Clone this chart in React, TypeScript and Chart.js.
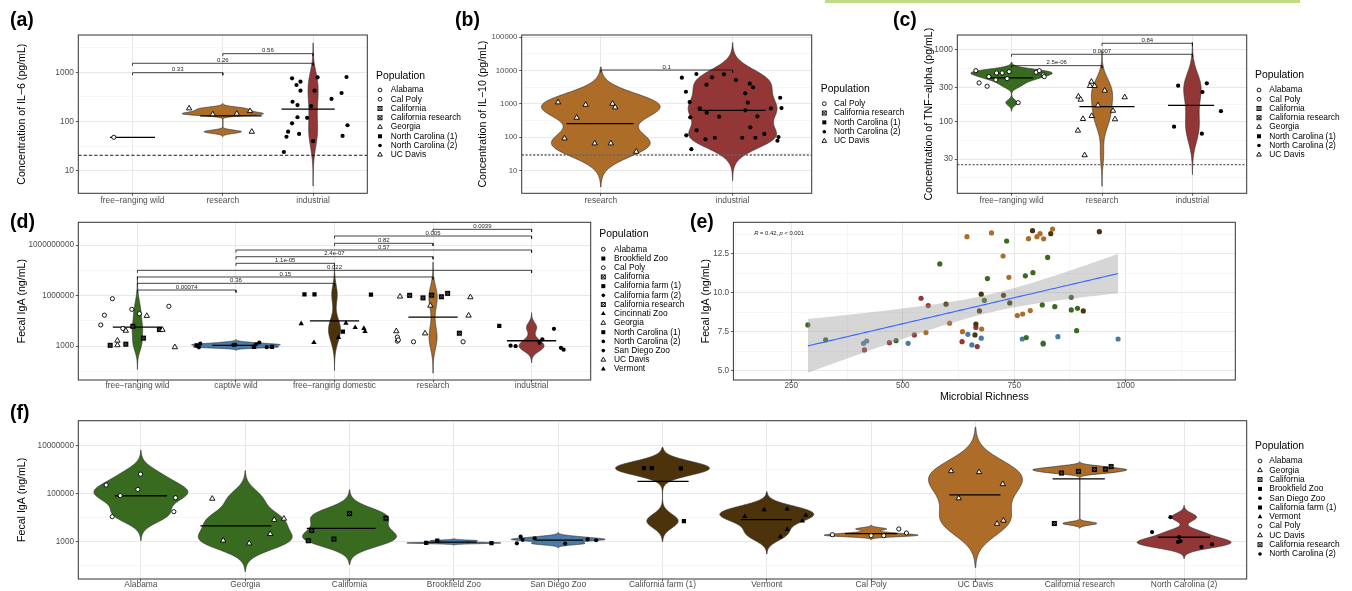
import React, { useEffect, useRef } from 'react';
import { Chart, registerables } from 'chart.js';

Chart.register(...registerables);

const FONT = '"Liberation Sans", Arial, Helvetica, sans-serif';

// ---------------- colours by population category ----------------
const COL_WILD = '#386a1f';
const COL_CAPTIVE = '#4a7ba7';
const COL_DOMESTIC = '#4d330b';
const COL_RESEARCH = '#ae6c29';
const COL_INDUSTRIAL = '#933636';

const POP_SHAPE: Record<string, string> = {
  'Alabama': 'ocircle', 'Cal Poly': 'ocircle', 'California': 'boxx', 'California research': 'boxx',
  'Georgia': 'otri', 'UC Davis': 'otri', 'North Carolina (1)': 'square', 'North Carolina (2)': 'dot',
  'Brookfield Zoo': 'square', 'California farm (1)': 'square', 'California farm (2)': 'dot',
  'Cincinnati Zoo': 'ftri', 'San Diego Zoo': 'dot', 'Vermont': 'ftri',
};

// ---------------- panel (a) IL-6 ----------------
const A_CATS = ['free−ranging wild', 'research', 'industrial'];
const A_WILD_IL6 = [47.8];
const A_WILD_JIT = [0.793];
const A_RES_IL6 = [185, 140, 144, 163, 62];
const A_RES_JIT = [1.627, 1.889, 2.155, 2.302, 2.321];
const A_IND_IL6 = [24, 755, 49, 62, 92, 252, 552, 644, 216, 122, 56, 423, 119, 206, 423, 40, 791, 287, 380, 802, 84, 51];
const A_IND_JIT = [2.676, 2.767, 2.705, 2.723, 2.767, 2.772, 2.816, 2.86, 2.827, 2.827, 2.845, 2.86, 2.934, 2.978, 3.016, 3.0, 3.049, 3.204, 3.315, 3.37, 3.381, 3.326];
const A_LOD = 20.6;
const A_Y_MAJOR = [10, 100, 1000];
const A_Y_LABELS = ['10', '100', '1000'];
const A_BR_FROM = [1, 1, 2];
const A_BR_TO = [2, 3, 3];
const A_BR_Y = [981, 1524, 2390];
const A_BR_P = ['0.33', '0.26', '0.56'];
const A_LEGEND = ['Alabama', 'Cal Poly', 'California', 'California research', 'Georgia', 'North Carolina (1)', 'North Carolina (2)', 'UC Davis'];

// ---------------- panel (b) IL-10 ----------------
const B_CATS = ['research', 'industrial'];
const B_RES_IL10 = [1122, 950, 1020, 794, 387, 93, 66, 66, 37];
const B_RES_JIT = [0.676, 0.885, 1.089, 1.109, 0.817, 0.725, 0.954, 1.076, 1.269];
const B_IND_IL10 = [6140, 7930, 2330, 1145, 741, 398, 115, 162, 44, 3785, 6300, 7760, 547, 415, 97, 87, 5240, 2090, 4060, 3160, 1092, 646, 426, 200, 97, 97, 126, 741, 1540, 755, 102, 79];
const B_IND_JIT = [1.615, 1.725, 1.646, 1.674, 1.75, 1.679, 1.649, 1.727, 1.687, 1.802, 1.844, 1.934, 1.804, 1.898, 1.865, 1.794, 2.025, 2.096, 2.13, 2.155, 2.115, 2.096, 2.188, 2.134, 2.073, 2.173, 2.241, 2.29, 2.361, 2.371, 2.348, 2.34];
const B_LOD = 29.6;
const B_Y_MAJOR = [10, 100, 1000, 10000, 100000];
const B_Y_LABELS = ['10', '100', '1000', '10000', '100000'];
const B_BR_FROM = [1];
const B_BR_TO = [2];
const B_BR_Y = [10450];
const B_BR_P = ['0.1'];
const B_LEGEND = ['Cal Poly', 'California research', 'North Carolina (1)', 'North Carolina (2)', 'UC Davis'];

// ---------------- panel (c) TNF-alpha ----------------
const C_CATS = ['free−ranging wild', 'research', 'industrial'];
const C_WILD_TNF = [514, 347, 312, 425, 382, 478, 478, 398, 498, 184, 489, 514, 448, 425];
const C_WILD_JIT = [0.605, 0.641, 0.73, 0.749, 0.826, 0.834, 0.896, 0.951, 0.973, 1.073, 1.272, 1.306, 1.35, 1.361];
const C_RES_TNF = [361, 315, 315, 271, 224, 203, 219, 169, 142, 109, 120, 108, 75, 34];
const C_RES_JIT = [1.883, 1.867, 1.919, 2.03, 1.739, 1.764, 2.251, 1.956, 2.122, 1.79, 1.886, 2.144, 1.734, 1.808];
const C_IND_TNF = [318, 343, 259, 140, 85, 68];
const C_IND_JIT = [2.842, 3.159, 3.111, 3.315, 2.797, 3.104];
const C_LOD = 25.1;
const C_Y_MAJOR = [30, 100, 300, 1000];
const C_Y_LABELS = ['30', '100', '300', '1000'];
const C_BR_FROM = [1, 1, 2];
const C_BR_TO = [2, 3, 3];
const C_BR_Y = [604, 871, 1240];
const C_BR_P = ['2.5e-06', '0.0007', '0.84'];

// ---------------- fecal IgA by population (panels d and f) ----------------
const IGA_ALABAMA = [229000, 83200, 151000, 646000, 67600, 11000, 17800];
const IGA_GEORGIA = [61700, 1120, 851, 2090, 8130, 9120];
const IGA_CALIFORNIA = [1100, 2950, 1290, 14800, 9550];
const IGA_BROOKFIELD = [890, 1100, 880];
const IGA_SANDIEGO = [851, 1620, 1200, 1380, 832, 1260, 1150];
const IGA_CALFARM1 = [1150000, 1170000, 1120000, 7240];
const IGA_VERMONT = [11200, 21400, 22900, 12600, 7240, 3240, 1620];
const IGA_CALPOLY = [1950, 1780, 1780, 3390, 2290];
const IGA_UCDAVIS = [871000, 794000, 251000, 64600, 5620, 7590];
const IGA_CALRES = [724000, 851000, 1020000, 1050000, 1350000, 5750];
const IGA_NC2 = [10500, 2510, 1550, 977, 603, 776, 1050];
const IGA_NC1 = [15800];

// jitter positions in panel (d)
const D_CATS = ['free−ranging wild', 'captive wild', 'free−ranging domestic', 'research', 'industrial'];
const D_JIT_ALABAMA = [1.319, 1.02, 0.943, 0.746, 0.665, 0.852, 0.628];
const D_JIT_GEORGIA = [1.095, 0.797, 1.38, 0.797, 0.882, 1.254];
const D_JIT_CALIFORNIA = [0.723, 1.061, 0.882, 0.953, 1.223];
const D_JIT_BROOKFIELD = [2.183, 1.601, 2.365];
const D_JIT_SANDIEGO = [2.312, 2.237, 1.993, 1.638, 1.624, 2.203, 1.973];
const D_JIT_CALFARM1 = [2.695, 2.797, 3.37, 3.085];
const D_JIT_VERMONT = [3.298, 2.662, 3.116, 3.21, 3.31, 3.041, 2.791];
const D_JIT_UCDAVIS = [3.665, 4.379, 3.973, 4.361, 3.919, 3.627];
const D_JIT_CALRES = [3.898, 4.084, 3.762, 3.986, 4.148, 4.267];
const D_JIT_CALPOLY = [3.638, 3.802, 4.305, 3.638, 3.648];
const D_JIT_NC2 = [5.227, 5.109, 5.081, 4.838, 5.325, 5.298, 4.787];
const D_JIT_NC1 = [4.672];
const D_Y_MAJOR = [1000, 1000000, 1000000000];
const D_Y_LABELS = ['1000', '1000000', '1000000000'];
const D_BR_FROM = [1, 1, 1, 1, 2, 2, 2, 3, 3, 4];
const D_BR_TO = [2, 3, 4, 5, 3, 4, 5, 4, 5, 5];
const D_BR_Y = [2.12e6, 5.3e6, 1.26e7, 3.14e7, 8.18e7, 2.02e8, 5.05e8, 1.26e9, 3.43e9, 8.57e9];
const D_BR_P = ['0.00074', '0.36', '0.15', '0.022', '1.1e-05', '2.4e-07', '0.57', '0.82', '0.005', '0.0039'];
const D_LEGEND = ['Alabama', 'Brookfield Zoo', 'Cal Poly', 'California', 'California farm (1)', 'California farm (2)', 'California research', 'Cincinnati Zoo', 'Georgia', 'North Carolina (1)', 'North Carolina (2)', 'San Diego Zoo', 'UC Davis', 'Vermont'];

// jitter positions in panel (f)
const F_CATS = ['Alabama', 'Georgia', 'California', 'Brookfield Zoo', 'San Diego Zoo', 'California farm (1)', 'Vermont', 'Cal Poly', 'UC Davis', 'California research', 'North Carolina (2)'];
const F_JIT_ALABAMA = [0.667, 0.802, 0.971, 0.996, 1.332, 0.725, 1.316];
const F_JIT_GEORGIA = [1.684, 1.789, 2.038, 2.24, 2.278, 2.371];
const F_JIT_CALIFORNIA = [2.604, 2.636, 2.85, 3.0, 3.349];
const F_JIT_BROOKFIELD = [3.735, 3.841, 4.361];
const F_JIT_SANDIEGO = [4.604, 4.64, 4.659, 4.774, 5.067, 5.282, 5.364];
const F_JIT_CALFARM1 = [5.822, 5.898, 6.176, 6.205];
const F_JIT_VERMONT = [6.789, 6.974, 7.195, 7.374, 7.341, 7.195, 7.13];
const F_JIT_CALPOLY = [7.629, 8.0, 8.121, 8.265, 8.338];
const F_JIT_UCDAVIS = [8.766, 9.035, 9.262, 8.84, 9.207, 9.268];
const F_JIT_CALRES = [9.824, 9.987, 10.14, 10.245, 10.3, 9.756];
const F_JIT_NC2 = [10.869, 10.693, 10.952, 10.942, 11.166, 11.268, 10.965];
const F_Y_MAJOR = [1000, 100000, 10000000];
const F_Y_LABELS = ['1000', '100000', '10000000'];

// ---------------- panel (e) microbial richness vs fecal IgA ----------------
const E_WILD_RICH = [287, 327, 485, 583, 683, 690, 733, 775, 777, 792, 813, 815, 825, 841, 878, 878, 892, 890];
const E_WILD_IGA = [7.95, 6.99, 6.94, 11.86, 9.53, 10.92, 13.33, 11.1, 7.14, 11.3, 9.23, 6.73, 12.28, 9.12, 9.72, 8.91, 9.02, 7.58];
const E_CAPT_RICH = [412, 419, 512, 646, 655, 676, 768, 815, 848, 983];
const E_CAPT_IGA = [6.77, 6.92, 6.77, 7.35, 6.67, 7.1, 7.05, 6.78, 7.2, 7.05];
const E_DOM_RICH = [597, 662, 664, 672, 676, 726, 740, 791, 832, 905, 941];
const E_DOM_IGA = [9.28, 7.31, 8.01, 8.85, 9.92, 9.85, 9.36, 13.99, 13.8, 8.85, 13.93];
const E_RES_RICH = [552, 605, 634, 644, 677, 699, 725, 738, 757, 769, 782, 786, 801, 808, 816, 836];
const E_RES_IGA = [7.46, 8.06, 7.52, 13.61, 7.69, 13.85, 12.37, 11.0, 8.55, 8.65, 13.48, 8.87, 13.61, 13.8, 13.47, 14.1];
const E_IND_RICH = [414, 470, 526, 541, 557, 633, 664, 667];
const E_IND_IGA = [6.35, 6.81, 7.31, 9.66, 9.19, 6.88, 7.79, 6.56];
const E_X_MAJOR = [250, 500, 750, 1000];
const E_X_LABELS = ['250', '500', '750', '1000'];
const E_Y_MAJOR = [5, 7.5, 10, 12.5];
const E_Y_LABELS = ['5.0', '7.5', '10.0', '12.5'];
const E_STAT_TEXT: [string, boolean][] = [['R', true], [' = 0.42, ', false], ['p', true], [' < 0.001', false]];

// ---------------- layout (page pixels) ----------------
const PANEL_BOXES = [
  [0, 0, 480, 212],
  [450, 0, 470, 212],
  [880, 0, 472, 212],
  [0, 205, 690, 193],
  [688, 205, 664, 200],
  [0, 400, 1352, 191],
];

// ---------------- helpers ----------------
const mean = (a: number[]) => a.reduce((s, v) => s + v, 0) / a.length;

function quantile7(sorted: number[], p: number) {
  const h = (sorted.length - 1) * p;
  const lo = Math.floor(h);
  const hi = Math.ceil(h);
  return sorted[lo] + (h - lo) * (sorted[hi] - sorted[lo]);
}

function bwNrd0(x: number[]) {
  const n = x.length;
  const m = mean(x);
  const sd = Math.sqrt(x.reduce((s, v) => s + (v - m) * (v - m), 0) / (n - 1));
  const s = [...x].sort((a, b) => a - b);
  const iqr = quantile7(s, 0.75) - quantile7(s, 0.25);
  let lo = Math.min(sd, iqr / 1.34);
  if (!(lo > 0)) lo = sd || Math.abs(x[0]) || 1;
  return 0.9 * lo * Math.pow(n, -0.2);
}

function kde(logs: number[]) {
  const n = logs.length;
  const bw = bwNrd0(logs);
  const lo = Math.min(...logs) - 3 * bw;
  const hi = Math.max(...logs) + 3 * bw;
  const N = 300;
  const ys: number[] = [];
  const ds: number[] = [];
  for (let i = 0; i < N; i++) {
    const y = lo + ((hi - lo) * i) / (N - 1);
    let s = 0;
    for (const v of logs) {
      const z = (y - v) / bw;
      s += Math.exp(-0.5 * z * z);
    }
    ys.push(y);
    ds.push(s / (n * bw * Math.sqrt(2 * Math.PI)));
  }
  return { y: ys, d: ds, dmax: Math.max(...ds), w: [] as number[] };
}

function logMinors(majors: number[], min: number, max: number) {
  const b = majors.map((v) => Math.log10(v));
  const n = b.length;
  const ext = [b[0] - (b[1] - b[0]), ...b, b[n - 1] + (b[n - 1] - b[n - 2])];
  const out: number[] = [];
  for (let i = 0; i < ext.length - 1; i++) out.push(Math.pow(10, (ext[i] + ext[i + 1]) / 2));
  return out.filter((v) => v > min && v < max);
}

function linMinors(majors: number[], min: number, max: number) {
  const n = majors.length;
  const ext = [majors[0] - (majors[1] - majors[0]), ...majors, majors[n - 1] + (majors[n - 1] - majors[n - 2])];
  const out: number[] = [];
  for (let i = 0; i < ext.length - 1; i++) out.push((ext[i] + ext[i + 1]) / 2);
  return out.filter((v) => v > min && v < max);
}

function tickSet(majors: number[], labels: string[], minors: number[]) {
  const all = [
    ...majors.map((v, i) => ({ v, major: true, label: labels[i] })),
    ...minors.map((v) => ({ v, major: false, label: '' })),
  ].sort((a, b) => a.v - b.v);
  return { values: all.map((t) => t.v), major: all.map((t) => t.major), labels: all.map((t) => t.label) };
}

function tq975(df: number) {
  const z = 1.959964;
  return z + (z ** 3 + z) / (4 * df) + (5 * z ** 5 + 16 * z ** 3 + 3 * z) / (96 * df * df) + (3 * z ** 7 + 19 * z ** 5 + 17 * z ** 3 - 15 * z) / (384 * df ** 3);
}

let BOX_IMG: HTMLCanvasElement | null = null;
function boxImg() {
  if (BOX_IMG) return BOX_IMG;
  const c = document.createElement('canvas');
  c.width = 7;
  c.height = 7;
  const g = c.getContext('2d')!;
  g.fillStyle = '#fff';
  g.fillRect(1.5, 1.5, 4, 4);
  g.strokeStyle = '#000';
  g.lineWidth = 1.1;
  g.strokeRect(1.5, 1.5, 4, 4);
  g.beginPath();
  g.moveTo(1.5, 1.5);
  g.lineTo(5.5, 5.5);
  g.moveTo(5.5, 1.5);
  g.lineTo(1.5, 5.5);
  g.stroke();
  BOX_IMG = c;
  return c;
}

function pointStyleFor(shape: string) {
  switch (shape) {
    case 'ocircle':
      return { pointStyle: 'circle', pointRadius: 2.1, pointBackgroundColor: '#fff', pointBorderColor: '#000', pointBorderWidth: 0.9 };
    case 'dot':
      return { pointStyle: 'circle', pointRadius: 2.1, pointBackgroundColor: '#000', pointBorderColor: '#000', pointBorderWidth: 0 };
    case 'otri':
      return { pointStyle: 'triangle', pointRadius: 3.1, pointBackgroundColor: '#fff', pointBorderColor: '#000', pointBorderWidth: 0.9 };
    case 'ftri':
      return { pointStyle: 'triangle', pointRadius: 3.1, pointBackgroundColor: '#000', pointBorderColor: '#000', pointBorderWidth: 0 };
    case 'square':
      return { pointStyle: 'rect', pointRadius: 3.0, pointBackgroundColor: '#000', pointBorderColor: '#000', pointBorderWidth: 0 };
    default:
      return { pointStyle: boxImg(), pointRadius: 3 };
  }
}

function drawSym(ctx: CanvasRenderingContext2D, shape: string, x: number, y: number) {
  ctx.save();
  ctx.lineWidth = 0.9;
  ctx.strokeStyle = '#000';
  ctx.fillStyle = '#000';
  if (shape === 'ocircle' || shape === 'dot') {
    ctx.beginPath();
    ctx.arc(x, y, shape === 'dot' ? 1.8 : 1.9, 0, Math.PI * 2);
    if (shape === 'dot') ctx.fill();
    else ctx.stroke();
  } else if (shape === 'otri' || shape === 'ftri') {
    const r = 2.7;
    ctx.beginPath();
    ctx.moveTo(x, y - r);
    ctx.lineTo(x + r * 0.866, y + r * 0.5);
    ctx.lineTo(x - r * 0.866, y + r * 0.5);
    ctx.closePath();
    if (shape === 'ftri') ctx.fill();
    else ctx.stroke();
  } else if (shape === 'square') {
    ctx.fillRect(x - 2, y - 2, 4, 4);
  } else {
    ctx.strokeRect(x - 2, y - 2, 4, 4);
    ctx.beginPath();
    ctx.moveTo(x - 2, y - 2);
    ctx.lineTo(x + 2, y + 2);
    ctx.moveTo(x + 2, y - 2);
    ctx.lineTo(x - 2, y + 2);
    ctx.stroke();
  }
  ctx.restore();
}

// ---------------- panel specs ----------------
function buildSpecs(): any[] {
  const legendA = { items: A_LEGEND, titleX: 376, titleY: 76, y0: 90, step: 9.25, symX: 380, textX: 390.7 };
  const a = {
    box: PANEL_BOXES[0], area: [78.3, 35, 367.3, 193.3], tag: '(a)', tagPos: [10, 21],
    yTitle: 'Concentration of IL−6 (pg/mL)', yTitleX: 21.7, yLog: true, yMin: 3.475, yMax: 5728,
    yMajor: A_Y_MAJOR, yLabels: A_Y_LABELS, yTickSize: 8.4,
    xMin: 0.4, xMax: 3.6, xMajor: [1, 2, 3], xLabels: A_CATS, xTickSize: 8.4, xPad: 0.3,
    violinMode: 'area',
    groups: [
      { cat: 1, color: COL_WILD, line: [-0.25, 0.25], pops: [{ pop: 'Alabama', vals: A_WILD_IL6, jit: A_WILD_JIT }] },
      { cat: 2, color: COL_RESEARCH, line: [-0.25, 0.43], pops: [{ pop: 'UC Davis', vals: A_RES_IL6, jit: A_RES_JIT }] },
      { cat: 3, color: COL_INDUSTRIAL, line: [-0.35, 0.24], pops: [{ pop: 'North Carolina (2)', vals: A_IND_IL6, jit: A_IND_JIT }] },
    ],
    brackets: { from: A_BR_FROM, to: A_BR_TO, y: A_BR_Y, p: A_BR_P },
    lod: { y: A_LOD, color: '#000', dash: [3.3, 2], width: 0.9 },
    legend: legendA,
  };
  const b = {
    box: PANEL_BOXES[1], area: [521.7, 35, 811.7, 193.3], tag: '(b)', tagPos: [455, 21],
    yTitle: 'Concentration of IL−10 (pg/mL)', yTitleX: 483.3, yLog: true, yMin: 2.09, yMax: 117500,
    yMajor: B_Y_MAJOR, yLabels: B_Y_LABELS, yTickSize: 7.8,
    xMin: 0.4, xMax: 2.6, xMajor: [1, 2], xLabels: B_CATS, xTickSize: 8.4, xPad: 0.3,
    violinMode: 'area',
    groups: [
      { cat: 1, color: COL_RESEARCH, line: [-0.26, 0.25], pops: [{ pop: 'UC Davis', vals: B_RES_IL10, jit: B_RES_JIT }] },
      { cat: 2, color: COL_INDUSTRIAL, line: [-0.26, 0.25], pops: [{ pop: 'North Carolina (2)', vals: B_IND_IL10, jit: B_IND_JIT }] },
    ],
    brackets: { from: B_BR_FROM, to: B_BR_TO, y: B_BR_Y, p: B_BR_P },
    lod: { y: B_LOD, color: '#666', dash: [2.2, 1.6], width: 1.4 },
    legend: { items: B_LEGEND, titleX: 820.7, titleY: 89.3, y0: 103.7, step: 9.33, symX: 824.3, textX: 834 },
  };
  const c = {
    box: PANEL_BOXES[2], area: [957.3, 35, 1246.7, 193.3], tag: '(c)', tagPos: [893, 21],
    yTitle: 'Concentration of TNF−alpha (pg/mL)', yTitleX: 929.3, yLog: true, yMin: 10, yMax: 1618,
    yMajor: C_Y_MAJOR, yLabels: C_Y_LABELS, yTickSize: 8.4,
    xMin: 0.4, xMax: 3.6, xMajor: [1, 2, 3], xLabels: C_CATS, xTickSize: 8.4, xPad: 0.3,
    violinMode: 'area',
    groups: [
      { cat: 1, color: COL_WILD, line: [-0.26, 0.24], pops: [{ pop: 'Alabama', vals: C_WILD_TNF, jit: C_WILD_JIT }] },
      { cat: 2, color: COL_RESEARCH, line: [-0.25, 0.36], pops: [{ pop: 'UC Davis', vals: C_RES_TNF, jit: C_RES_JIT }] },
      { cat: 3, color: COL_INDUSTRIAL, line: [-0.27, 0.24], pops: [{ pop: 'North Carolina (2)', vals: C_IND_TNF, jit: C_IND_JIT }] },
    ],
    brackets: { from: C_BR_FROM, to: C_BR_TO, y: C_BR_Y, p: C_BR_P },
    lod: { y: C_LOD, color: '#666', dash: [2.2, 1.6], width: 1.4 },
    legend: { items: A_LEGEND, titleX: 1255, titleY: 75.3, y0: 90, step: 9.25, symX: 1259, textX: 1269.3 },
  };
  const d = {
    box: PANEL_BOXES[3], area: [78.3, 222.3, 590.7, 380], tag: '(d)', tagPos: [10, 222.5],
    yTitle: 'Fecal IgA (ng/mL)', yTitleX: 21.7, yLog: true, yMin: 9.55, yMax: 2.24e10,
    yMajor: D_Y_MAJOR, yLabels: D_Y_LABELS, yTickSize: 8.2,
    xMin: 0.4, xMax: 5.6, xMajor: [1, 2, 3, 4, 5], xLabels: D_CATS, xTickSize: 8.4, xPad: -0.7,
    violinMode: 'area',
    groups: [
      { cat: 1, color: COL_WILD, line: [-0.25, 0.25], pops: [
        { pop: 'Alabama', vals: IGA_ALABAMA, jit: D_JIT_ALABAMA },
        { pop: 'Georgia', vals: IGA_GEORGIA, jit: D_JIT_GEORGIA },
        { pop: 'California', vals: IGA_CALIFORNIA, jit: D_JIT_CALIFORNIA }] },
      { cat: 2, color: COL_CAPTIVE, line: [-0.24, 0.19], pops: [
        { pop: 'Brookfield Zoo', vals: IGA_BROOKFIELD, jit: D_JIT_BROOKFIELD },
        { pop: 'San Diego Zoo', vals: IGA_SANDIEGO, jit: D_JIT_SANDIEGO }] },
      { cat: 3, color: COL_DOMESTIC, line: [-0.25, 0.25], pops: [
        { pop: 'California farm (1)', vals: IGA_CALFARM1, jit: D_JIT_CALFARM1 },
        { pop: 'Vermont', vals: IGA_VERMONT, jit: D_JIT_VERMONT }] },
      { cat: 4, color: COL_RESEARCH, line: [-0.25, 0.25], pops: [
        { pop: 'UC Davis', vals: IGA_UCDAVIS, jit: D_JIT_UCDAVIS },
        { pop: 'California research', vals: IGA_CALRES, jit: D_JIT_CALRES },
        { pop: 'Cal Poly', vals: IGA_CALPOLY, jit: D_JIT_CALPOLY }] },
      { cat: 5, color: COL_INDUSTRIAL, line: [-0.25, 0.25], pops: [
        { pop: 'North Carolina (1)', vals: IGA_NC1, jit: D_JIT_NC1 },
        { pop: 'North Carolina (2)', vals: IGA_NC2, jit: D_JIT_NC2 }] },
    ],
    brackets: { from: D_BR_FROM, to: D_BR_TO, y: D_BR_Y, p: D_BR_P },
    legend: { items: D_LEGEND, titleX: 599.3, titleY: 234.3, y0: 249.3, step: 9.21, symX: 603.3, textX: 614 },
  };
  const fPops: [string, number[], number[], string, number[]][] = [
    ['Alabama', IGA_ALABAMA, F_JIT_ALABAMA, COL_WILD, [-0.25, 0.25]],
    ['Georgia', IGA_GEORGIA, F_JIT_GEORGIA, COL_WILD, [-0.43, 0.25]],
    ['California', IGA_CALIFORNIA, F_JIT_CALIFORNIA, COL_WILD, [-0.41, 0.25]],
    ['Brookfield Zoo', IGA_BROOKFIELD, F_JIT_BROOKFIELD, COL_CAPTIVE, [-0.25, 0.22]],
    ['San Diego Zoo', IGA_SANDIEGO, F_JIT_SANDIEGO, COL_CAPTIVE, [-0.22, 0.24]],
    ['California farm (1)', IGA_CALFARM1, F_JIT_CALFARM1, COL_DOMESTIC, [-0.24, 0.25]],
    ['Vermont', IGA_VERMONT, F_JIT_VERMONT, COL_DOMESTIC, [-0.25, 0.24]],
    ['Cal Poly', IGA_CALPOLY, F_JIT_CALPOLY, COL_RESEARCH, [-0.25, 0.25]],
    ['UC Davis', IGA_UCDAVIS, F_JIT_UCDAVIS, COL_RESEARCH, [-0.25, 0.24]],
    ['California research', IGA_CALRES, F_JIT_CALRES, COL_RESEARCH, [-0.26, 0.24]],
    ['North Carolina (2)', IGA_NC2, F_JIT_NC2, COL_INDUSTRIAL, [-0.25, 0.25]],
  ];
  const f = {
    box: PANEL_BOXES[5], area: [78.3, 420.7, 1246.7, 579], tag: '(f)', tagPos: [10, 414],
    yTitle: 'Fecal IgA (ng/mL)', yTitleX: 21.7, yLog: true, yMin: 27.9, yMax: 1.096e8,
    yMajor: F_Y_MAJOR, yLabels: F_Y_LABELS, yTickSize: 8.2,
    xMin: 0.4, xMax: 11.6, xMajor: F_CATS.map((_, i) => i + 1), xLabels: F_CATS, xTickSize: 8.4, xPad: -0.7,
    violinMode: 'width',
    groups: fPops.map((p, i) => ({ cat: i + 1, color: p[3], line: p[4], pops: [{ pop: p[0], vals: p[1], jit: p[2] }] })),
    legend: { items: F_CATS, titleX: 1255, titleY: 446, y0: 461, step: 9.3, symX: 1260, textX: 1269.3 },
  };
  const e = {
    box: PANEL_BOXES[4], area: [733.4, 222.3, 1235.3, 380], tag: '(e)', tagPos: [690, 222.5],
    yTitle: 'Fecal IgA (ng/mL)', yTitleX: 706.5, yLog: false, yMin: 4.42, yMax: 14.53,
    yMajor: E_Y_MAJOR, yLabels: E_Y_LABELS, yTickSize: 8.2,
    xMin: 120, xMax: 1246, xMajor: E_X_MAJOR, xLabels: E_X_LABELS, xTickSize: 8.2, xPad: -0.7, xLinMinor: true,
    xTitle: 'Microbial Richness', xTitleY: 396.7,
    scatterGroups: [
      [E_WILD_RICH, E_WILD_IGA, COL_WILD],
      [E_CAPT_RICH, E_CAPT_IGA, COL_CAPTIVE],
      [E_DOM_RICH, E_DOM_IGA, COL_DOMESTIC],
      [E_RES_RICH, E_RES_IGA, COL_RESEARCH],
      [E_IND_RICH, E_IND_IGA, COL_INDUSTRIAL],
    ],
    stat: { parts: E_STAT_TEXT, x: 754.3, y: 233.7 },
  };
  return [a, b, c, d, e, f];
}

function makeChart(canvas: HTMLCanvasElement, s: any): Chart {
  const [cx, cy, cw, ch] = s.box;
  const [L, T, R, B] = s.area;
  const titleSize = 10.6;
  const lh = titleSize * 1.2;

  const yMinors = s.yLog ? logMinors(s.yMajor, s.yMin, s.yMax) : linMinors(s.yMajor, s.yMin, s.yMax);
  const yT = tickSet(s.yMajor, s.yLabels, yMinors);
  const xMinors = s.xLinMinor ? linMinors(s.xMajor, s.xMin, s.xMax) : [];
  const xT = tickSet(s.xMajor, s.xLabels, xMinors);

  const datasets: any[] = [];
  const violins: any[] = [];

  if (s.groups) {
    for (const g of s.groups) {
      const all: number[] = g.pops.flatMap((p: any) => p.vals);
      const logs = all.map((v) => Math.log10(v));
      if (logs.length >= 2) violins.push({ cat: g.cat, color: g.color, ...kde(logs) });
      const m = Math.pow(10, mean(logs));
      datasets.push({
        type: 'line', data: [{ x: g.cat + g.line[0], y: m }, { x: g.cat + g.line[1], y: m }],
        borderColor: '#000', borderWidth: 1.3, pointRadius: 0, order: 2,
      });
      for (const p of g.pops) {
        datasets.push({
          type: 'scatter', label: p.pop, data: p.jit.map((x: number, i: number) => ({ x, y: p.vals[i] })),
          ...pointStyleFor(POP_SHAPE[p.pop]), order: 1,
        });
      }
    }
    if (violins.length) {
      const gmax = Math.max(...violins.map((v) => v.dmax));
      for (const v of violins) {
        const ref = s.violinMode === 'area' ? gmax : v.dmax;
        v.w = v.d.map((dd: number) => (dd / ref) * 0.45);
      }
    }
  }

  if (s.brackets) {
    const tipDec = (Math.log10(s.yMax) - Math.log10(s.yMin)) * 0.016;
    const tf = Math.pow(10, tipDec);
    const br = s.brackets;
    br.y.forEach((yv: number, i: number) => {
      datasets.push({
        type: 'line',
        data: [{ x: br.from[i], y: yv / tf }, { x: br.from[i], y: yv }, { x: br.to[i], y: yv }, { x: br.to[i], y: yv / tf }],
        borderColor: '#111', borderWidth: 0.8, pointRadius: 0, order: 0,
      });
    });
  }

  if (s.lod) {
    datasets.push({
      type: 'line', data: [{ x: s.xMin, y: s.lod.y }, { x: s.xMax, y: s.lod.y }],
      borderColor: s.lod.color, borderWidth: s.lod.width, borderDash: s.lod.dash, pointRadius: 0, order: 3,
    });
  }

  if (s.scatterGroups) {
    const xsAll: number[] = [];
    const ysAll: number[] = [];
    for (const [xs, ys, col] of s.scatterGroups) {
      xsAll.push(...xs);
      ysAll.push(...ys);
      datasets.push({
        type: 'scatter', data: xs.map((x: number, i: number) => ({ x, y: ys[i] })),
        pointStyle: 'circle', pointRadius: 2.6, pointBackgroundColor: col, pointBorderWidth: 0, order: 2,
      });
    }
    const n = xsAll.length;
    const mx = mean(xsAll);
    const my = mean(ysAll);
    let sxx = 0;
    let sxy = 0;
    for (let i = 0; i < n; i++) {
      sxx += (xsAll[i] - mx) ** 2;
      sxy += (xsAll[i] - mx) * (ysAll[i] - my);
    }
    const slope = sxy / sxx;
    const icpt = my - slope * mx;
    let sse = 0;
    for (let i = 0; i < n; i++) sse += (ysAll[i] - icpt - slope * xsAll[i]) ** 2;
    const sig = Math.sqrt(sse / (n - 2));
    const t = tq975(n - 2);
    const x0 = Math.min(...xsAll);
    const x1 = Math.max(...xsAll);
    const fit: any[] = [];
    const up: any[] = [];
    const dn: any[] = [];
    for (let k = 0; k < 80; k++) {
      const xv = x0 + ((x1 - x0) * k) / 79;
      const yv = icpt + slope * xv;
      const se = sig * Math.sqrt(1 / n + (xv - mx) ** 2 / sxx);
      fit.push({ x: xv, y: yv });
      up.push({ x: xv, y: yv + t * se });
      dn.push({ x: xv, y: yv - t * se });
    }
    datasets.push({ type: 'line', data: up, borderWidth: 0, borderColor: 'rgba(0,0,0,0)', pointRadius: 0, fill: false, order: 1 });
    datasets.push({ type: 'line', data: dn, borderWidth: 0, borderColor: 'rgba(0,0,0,0)', pointRadius: 0, fill: '-1', backgroundColor: 'rgba(153,153,153,0.4)', order: 1 });
    datasets.push({ type: 'line', data: fit, borderColor: '#3366ff', borderWidth: 1.1, pointRadius: 0, order: 0 });
  }

  const panelPlugin = {
    id: 'panelDecor',
    beforeDatasetsDraw(chart: any) {
      if (!violins.length) return;
      const ctx = chart.ctx;
      const ca = chart.chartArea;
      const xs = chart.scales.x;
      const ys = chart.scales.y;
      ctx.save();
      ctx.beginPath();
      ctx.rect(ca.left, ca.top, ca.right - ca.left, ca.bottom - ca.top);
      ctx.clip();
      for (const v of violins) {
        ctx.beginPath();
        for (let i = 0; i < v.y.length; i++) {
          const px = xs.getPixelForValue(v.cat + v.w[i]);
          const py = ys.getPixelForValue(Math.pow(10, v.y[i]));
          if (i === 0) ctx.moveTo(px, py);
          else ctx.lineTo(px, py);
        }
        for (let i = v.y.length - 1; i >= 0; i--) {
          ctx.lineTo(xs.getPixelForValue(v.cat - v.w[i]), ys.getPixelForValue(Math.pow(10, v.y[i])));
        }
        ctx.closePath();
        ctx.fillStyle = v.color;
        ctx.fill();
        ctx.strokeStyle = '#333';
        ctx.lineWidth = 0.7;
        ctx.stroke();
      }
      ctx.restore();
    },
    afterDatasetsDraw(chart: any) {
      const ctx = chart.ctx;
      const ca = chart.chartArea;
      const xs = chart.scales.x;
      const ys = chart.scales.y;
      if (s.brackets) {
        const br = s.brackets;
        ctx.save();
        ctx.font = `6px ${FONT}`;
        ctx.fillStyle = '#222';
        ctx.textAlign = 'center';
        ctx.textBaseline = 'alphabetic';
        br.y.forEach((yv: number, i: number) => {
          const px = xs.getPixelForValue((br.from[i] + br.to[i]) / 2);
          const py = ys.getPixelForValue(yv);
          ctx.fillText(br.p[i], px, py - 1.3);
        });
        ctx.restore();
      }
      if (s.stat) {
        ctx.save();
        ctx.textBaseline = 'middle';
        ctx.textAlign = 'left';
        ctx.fillStyle = '#1a1a1a';
        let x = s.stat.x - cx;
        for (const [txt, it] of s.stat.parts) {
          ctx.font = `${it ? 'italic ' : ''}5.8px ${FONT}`;
          ctx.fillText(txt, x, s.stat.y - cy);
          x += ctx.measureText(txt).width;
        }
        ctx.restore();
      }
      ctx.save();
      ctx.strokeStyle = '#333';
      ctx.lineWidth = 1;
      ctx.strokeRect(ca.left, ca.top, ca.right - ca.left, ca.bottom - ca.top);
      ctx.restore();
    },
    afterDraw(chart: any) {
      const ctx = chart.ctx;
      ctx.save();
      ctx.fillStyle = '#000';
      ctx.textAlign = 'left';
      ctx.textBaseline = 'middle';
      ctx.font = `bold 19.5px ${FONT}`;
      ctx.fillText(s.tag, s.tagPos[0] - cx, s.tagPos[1] - cy);
      if (s.legend) {
        const lg = s.legend;
        ctx.font = `10.4px ${FONT}`;
        ctx.fillText('Population', lg.titleX - cx, lg.titleY - cy);
        ctx.font = `8.4px ${FONT}`;
        lg.items.forEach((pop: string, i: number) => {
          const y = lg.y0 + i * lg.step - cy;
          drawSym(ctx, POP_SHAPE[pop], lg.symX - cx, y);
          ctx.fillStyle = '#000';
          ctx.fillText(pop, lg.textX - cx, y);
        });
      }
      ctx.restore();
    },
  };

  const gridOpts = (ts: any) => ({
    color: (c: any) => (ts.major[c.index] ? '#e8e8e8' : '#f0f0f0'),
    lineWidth: (c: any) => (ts.major[c.index] ? 1 : 0.6),
    drawTicks: true,
    tickLength: 2.5,
    tickColor: (c: any) => (ts.major[c.index] ? '#333' : 'rgba(0,0,0,0)'),
    tickWidth: 0.8,
  });

  const xTitle = s.xTitle
    ? { display: true, text: s.xTitle, color: '#000', font: { family: FONT, size: titleSize }, padding: { top: 0, bottom: cy + ch - s.xTitleY - lh / 2 } }
    : { display: false };

  const config: any = {
    type: 'scatter',
    data: { datasets },
    options: {
      responsive: false,
      animation: false,
      devicePixelRatio: 1,
      events: [],
      layout: { padding: { left: 0, top: T - cy, right: cx + cw - R, bottom: 0 } },
      plugins: { legend: { display: false }, tooltip: { enabled: false }, title: { display: false } },
      scales: {
        x: {
          type: 'linear', min: s.xMin, max: s.xMax,
          afterBuildTicks: (ax: any) => { ax.ticks = xT.values.map((v) => ({ value: v })); },
          afterFit: (ax: any) => { ax.height = cy + ch - B; },
          ticks: {
            callback: (_v: any, i: number) => xT.labels[i],
            font: { family: FONT, size: s.xTickSize, lineHeight: 1 }, color: '#4d4d4d',
            padding: s.xPad, autoSkip: false, maxRotation: 0, minRotation: 0,
          },
          grid: gridOpts(xT),
          border: { display: false },
          title: xTitle,
        },
        y: {
          type: s.yLog ? 'logarithmic' : 'linear', min: s.yMin, max: s.yMax,
          afterBuildTicks: (ax: any) => { ax.ticks = yT.values.map((v) => ({ value: v })); },
          afterFit: (ax: any) => { ax.width = L - cx; },
          ticks: {
            callback: (_v: any, i: number) => yT.labels[i],
            font: { family: FONT, size: s.yTickSize, lineHeight: 1 }, color: '#4d4d4d',
            padding: 1.8, autoSkip: false,
          },
          grid: gridOpts(yT),
          border: { display: false },
          title: {
            display: true, text: s.yTitle, color: '#000', font: { family: FONT, size: titleSize },
            padding: { top: s.yTitleX - cx - lh / 2, bottom: 0 },
          },
        },
      },
    },
    plugins: [panelPlugin],
  };
  return new Chart(canvas, config);
}

export default function App() {
  const refs = useRef<(HTMLCanvasElement | null)[]>([]);
  useEffect(() => {
    const specs = buildSpecs();
    const charts = specs.map((s, i) => makeChart(refs.current[i] as HTMLCanvasElement, s));
    return () => charts.forEach((c) => c.destroy());
  }, []);
  return (
    <div style={{ position: 'absolute', left: 0, top: 0, width: 1352, height: 591, background: '#fff', overflow: 'hidden' }}>
      {PANEL_BOXES.map((b, i) => (
        <canvas
          key={i}
          ref={(el) => { refs.current[i] = el; }}
          width={b[2]}
          height={b[3]}
          style={{ position: 'absolute', left: b[0], top: b[1], width: b[2], height: b[3] }}
        />
      ))}
      <div style={{ position: 'absolute', left: 825, top: 0, width: 475, height: 3, background: '#c0dc84' }} />
    </div>
  );
}
